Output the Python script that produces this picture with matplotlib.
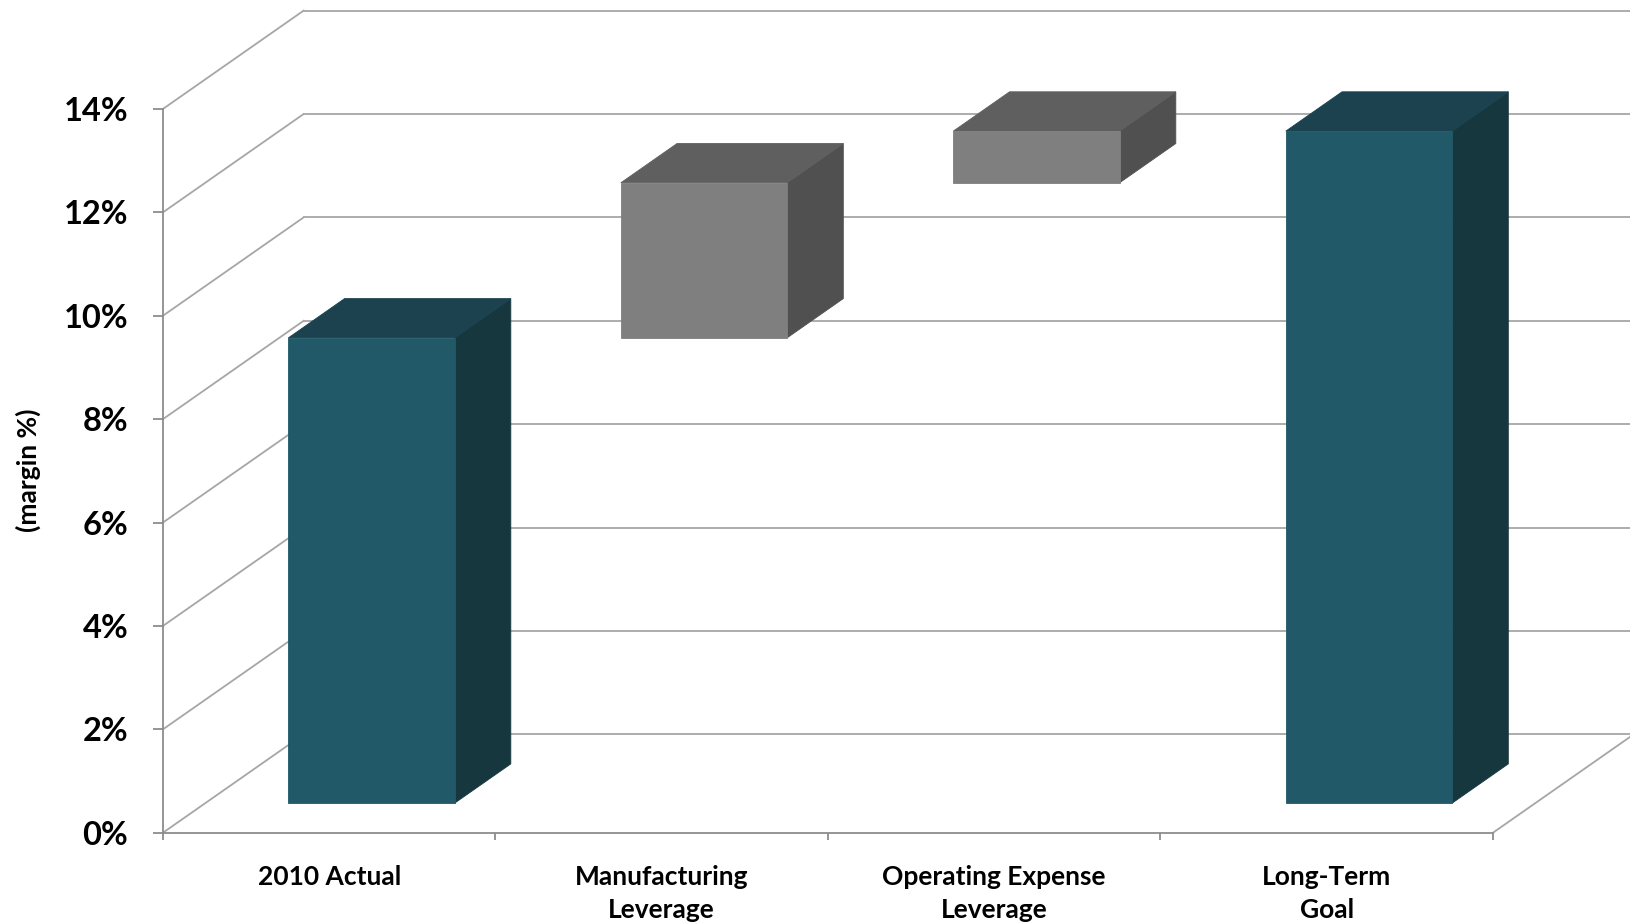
import matplotlib
matplotlib.use("Agg")
import matplotlib.pyplot as plt
from matplotlib.patches import Polygon

# ---- data ----
categories = ["2010 Actual", "Manufacturing\nLeverage", "Operating Expense\nLeverage", "Long-Term\nGoal"]
bar_base = [0, 9, 12, 0]        # % margin where each bar starts
bar_height = [9, 3, 1, 13]      # % margin added by each bar
bar_kind = ["total", "delta", "delta", "total"]
y_ticks = [0, 2, 4, 6, 8, 10, 12, 14]
y_tick_labels = ["0%", "2%", "4%", "6%", "8%", "10%", "12%", "14%"]
y_title = "(margin %)"

# ---- style ----
plt.rcParams['font.family'] = ['Lato', 'DejaVu Sans']
colors = {
    "total": ("#215968", "#1B424E", "#17373F"),   # front, top, side
    "delta": ("#7F7F7F", "#5F5F5F", "#505050"),
}
grid_c = "#A6A6A6"
axis_c = "#8C8C8C"

W_PX, H_PX = 1631, 922
fig = plt.figure(figsize=(W_PX / 100, H_PX / 100), dpi=100)
x0, y0 = 163, 832.7          # front origin (px)
x1, y14 = 1493, 108.9        # front right end, front 14% level (px)
ax = fig.add_axes([x0 / W_PX, (H_PX - y0) / H_PX, (x1 - x0) / W_PX, (y0 - y14) / H_PX])
ax.set_xlim(0, len(categories))
ax.set_ylim(0, 14)
ax.patch.set_alpha(0)

# oblique depth offset in data units
DX, DY = 0.4229, 1.901
D0, D1 = 0.30, 0.70
W = 0.5
n = len(categories)

# walls: side diagonals + back gridlines
for v in y_ticks:
    ax.plot([0, DX], [v, v + DY], color=grid_c, lw=1.3, clip_on=False, zorder=1)
    ax.plot([DX, n + DX], [v + DY, v + DY], color=grid_c, lw=1.3, clip_on=False, zorder=1)
# floor right edge
ax.plot([n, n + DX], [0, DY], color=grid_c, lw=1.3, clip_on=False, zorder=1)

# bars
for i, (b, h, k) in enumerate(zip(bar_base, bar_height, bar_kind)):
    t = b + h
    xl = i + 0.5 - W / 2
    xr = i + 0.5 + W / 2
    fc, tc, sc = colors[k]
    front = [(xl + D0 * DX, b + D0 * DY), (xr + D0 * DX, b + D0 * DY),
             (xr + D0 * DX, t + D0 * DY), (xl + D0 * DX, t + D0 * DY)]
    top = [(xl + D0 * DX, t + D0 * DY), (xr + D0 * DX, t + D0 * DY),
           (xr + D1 * DX, t + D1 * DY), (xl + D1 * DX, t + D1 * DY)]
    side = [(xr + D0 * DX, b + D0 * DY), (xr + D1 * DX, b + D1 * DY),
            (xr + D1 * DX, t + D1 * DY), (xr + D0 * DX, t + D0 * DY)]
    for poly, c in ((side, sc), (top, tc), (front, fc)):
        ax.add_patch(Polygon(poly, closed=True, facecolor=c, edgecolor=c,
                             lw=0.6, clip_on=False, zorder=3))

# spines / ticks
for s in ("top", "right"):
    ax.spines[s].set_visible(False)
for s in ("left", "bottom"):
    ax.spines[s].set_color(axis_c)
    ax.spines[s].set_linewidth(1.3)
    ax.spines[s].set_zorder(2)

ax.set_yticks(y_ticks)
ax.set_yticklabels(y_tick_labels, fontsize=23.5, fontweight="bold")
ax.tick_params(axis="y", length=7, width=1.3, color=axis_c, pad=18)

ax.set_xticks([i + 0.5 for i in range(n)])
ax.set_xticklabels(categories, fontsize=19, fontweight="bold", linespacing=1.45)
ax.set_xticks(range(n + 1), minor=True)
ax.tick_params(axis="x", which="major", length=0, pad=23.5)
ax.tick_params(axis="x", which="minor", length=5, width=1.3, color=axis_c)

fig.text(28 / W_PX, 1 - 470 / H_PX, y_title, rotation=90, ha="center", va="center",
         fontsize=19, fontweight="bold")

fig.savefig("out.png", dpi=100, facecolor="white")
